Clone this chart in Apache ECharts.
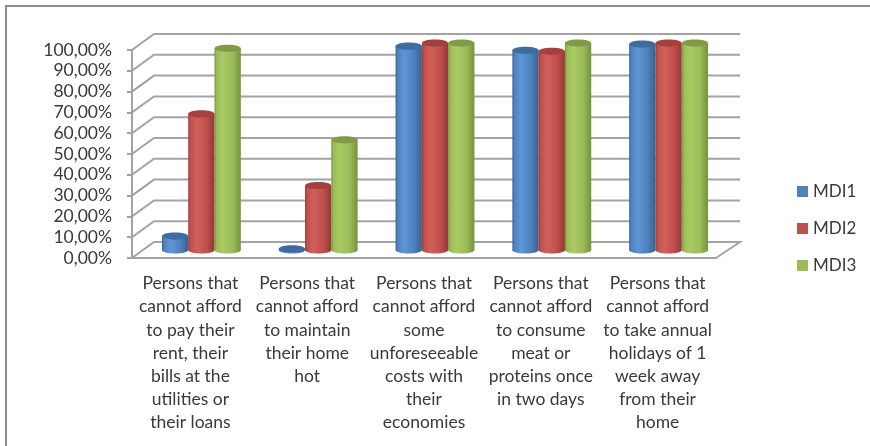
<!DOCTYPE html>
<html><head><meta charset="utf-8">
<style>html,body{margin:0;padding:0;background:#fff}#c{width:870px;height:446px}</style>
<script src="https://cdn.jsdelivr.net/npm/echarts@6/dist/echarts.min.js"></script>
</head><body><div id="c"></div>
<script>
const categories = [
  "Persons that\ncannot afford\nto pay their\nrent, their\nbills at the\nutilities or\ntheir loans",
  "Persons that\ncannot afford\nto maintain\ntheir home\nhot",
  "Persons that\ncannot afford\nsome\nunforeseeable\ncosts with\ntheir\neconomies",
  "Persons that\ncannot afford\nto consume\nmeat or\nproteins once\nin two days",
  "Persons that\ncannot afford\nto take annual\nholidays of 1\nweek away\nfrom their\nhome"
];
const mdi1 = [6.7, 0.5, 98, 96, 99];
const mdi2 = [65.4, 31, 99.5, 95.5, 99.5];
const mdi3 = [97, 53, 99.5, 99.5, 99.5];
const yTicks = [0,10,20,30,40,50,60,70,80,90,100];

const FONT = 'Lato';
const TXT = '#3a3a3a';
const GRID = '#a3a3a3';
const G = echarts.graphic;

function hgrad(stops){
  return new G.LinearGradient(0,0,1,0,stops.map((c)=>({offset:c[0],color:c[1]})));
}
function cylinderSeries(name, values, idx, base, dark, light, cap){
  return {
    name, type:'custom', z:5, itemStyle:{color:base},
    data: values.map((v,i)=>[i,v]),
    renderItem(params, api){
      const p = api.coord([api.value(0), api.value(1)]);
      const z = api.coord([api.value(0), 0]);
      const band = api.size([1,0])[0];
      const w = band*0.225, rx = w/2, ry = 3.6;
      const cx = p[0] + 11 + (idx-1)*w;
      const top = p[1]-8, bot = z[1]-8;
      const body = hgrad([[0,dark],[0.08,base],[0.32,light],[0.7,base],[1,dark]]);
      return {type:'group', children:[
        {type:'ellipse', shape:{cx,cy:bot,rx,ry}, style:{fill:body}},
        {type:'rect', shape:{x:cx-rx,y:top,width:w,height:Math.max(bot-top,0)}, style:{fill:body}},
        {type:'ellipse', shape:{cx,cy:top,rx,ry}, style:{fill:cap}}
      ]};
    }
  };
}
const gridSeries = {
  type:'custom', z:1, silent:true, legendHoverLink:false,
  data: yTicks.map(v=>[0,v]),
  renderItem(params, api){
    const cs = params.coordSys;
    const y = api.coord([0, api.value(1)])[1];
    const pts = [[cs.x,y],[cs.x+22,y-16],[cs.x+cs.width+24,y-16]];
    if (api.value(1)===0) pts.push([cs.x+cs.width,y]);
    return {type:'polyline', shape:{points:pts}, style:{fill:null,stroke:GRID,lineWidth:2}};
  }
};
const chart = echarts.init(document.getElementById('c'));
chart.setOption({
  animation:false,
  backgroundColor:'#fff',
  textStyle:{fontFamily:FONT},
  grid:{left:132,right:154,top:50,bottom:188},
  legend:{
    data:['MDI1','MDI2','MDI3'], orient:'vertical', left:797, top:183, padding:0,
    icon:'rect', itemWidth:11, itemHeight:11, itemGap:20,
    textStyle:{fontFamily:FONT,fontSize:17,color:TXT}
  },
  xAxis:{
    type:'category', data:categories,
    axisLine:{lineStyle:{color:GRID,width:2}},
    axisTick:{length:5,lineStyle:{color:GRID,width:2}},
    axisLabel:{interval:0,margin:14,fontFamily:FONT,fontSize:17.5,color:TXT,lineHeight:23.2,hideOverlap:false}
  },
  yAxis:{
    type:'value', min:0, max:100, interval:10,
    axisLine:{show:true,lineStyle:{color:GRID,width:2}},
    axisTick:{show:true,length:5,lineStyle:{color:GRID,width:2}},
    splitLine:{show:false},
    axisLabel:{margin:20,fontFamily:FONT,fontSize:17.5,color:TXT,padding:[5,0,0,0],
      formatter:v=>v.toFixed(2).replace('.',',')+'%'}
  },
  graphic:[
    {type:'line',shape:{x1:6,y1:6,x2:870,y2:6},style:{stroke:'#8c8c8c',lineWidth:2}},
    {type:'line',shape:{x1:6,y1:5,x2:6,y2:446},style:{stroke:'#8c8c8c',lineWidth:2}}
  ],
  series:[
    gridSeries,
    cylinderSeries('MDI1',mdi1,0,'#4f81bd','#38618f','#5f96d6','#3f6c9f'),
    cylinderSeries('MDI2',mdi2,1,'#c0504d','#953735','#d25f5b','#a4413f'),
    cylinderSeries('MDI3',mdi3,2,'#9bbb59','#76923c','#a9cc62','#7f9b48')
  ]
});
</script></body></html>
